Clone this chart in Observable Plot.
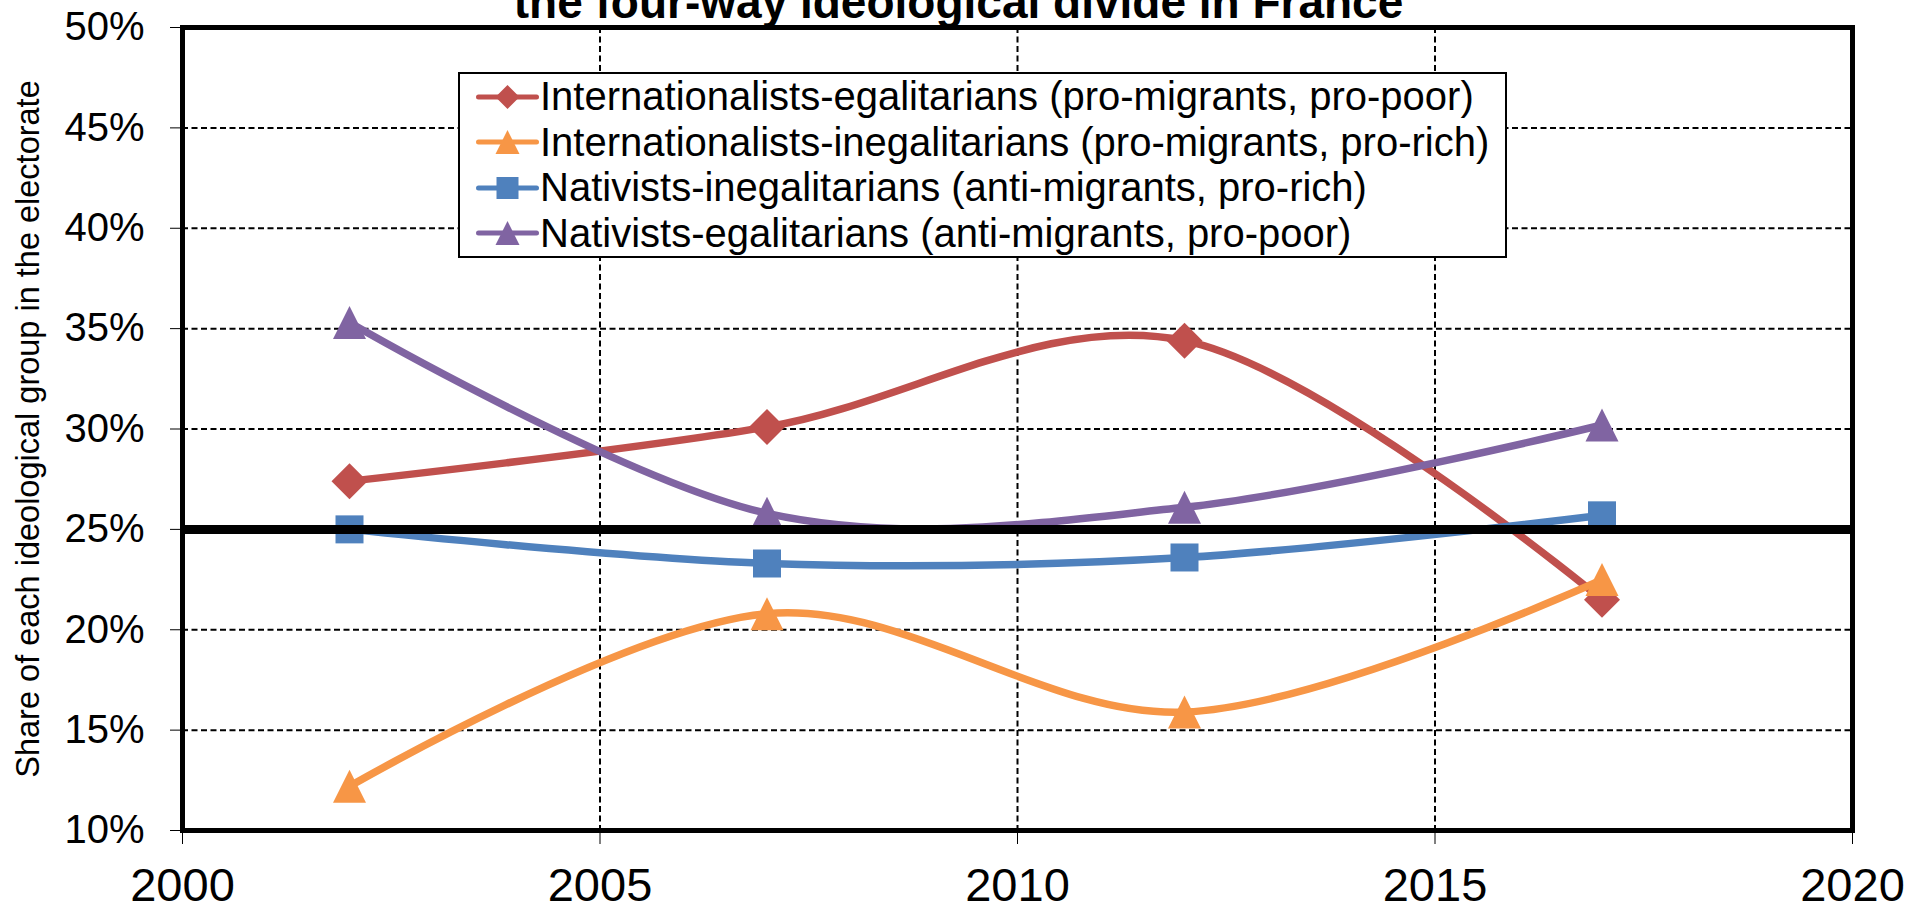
<!DOCTYPE html>
<html>
<head>
<meta charset="utf-8">
<script src="https://cdn.jsdelivr.net/npm/d3@7"></script>
<script src="https://cdn.jsdelivr.net/npm/@observablehq/plot@0.6"></script>
<style>
  html, body { margin: 0; padding: 0; background: #fff; }
  #wrap { position: relative; width: 1926px; height: 910px; overflow: hidden; font-family: "Liberation Sans", Arial, sans-serif; }
  #legend { position: absolute; left: 458px; top: 72px; width: 1045px; height: 182px; border: 2.5px solid #000; background: #fff; }
  #legend .row { display: flex; align-items: center; height: 45.5px; font-size: 40px; color: #000; white-space: nowrap; }
  #legend svg { display: block; flex: none; }
</style>
</head>
<body>
<div id="wrap"></div>
<script>
// ---- data ----
const years = [2002, 2007, 2012, 2017];
const seriesNames = [
  "Internationalists-egalitarians (pro-migrants, pro-poor)",
  "Internationalists-inegalitarians (pro-migrants, pro-rich)",
  "Nativists-inegalitarians (anti-migrants, pro-rich)",
  "Nativists-egalitarians (anti-migrants, pro-poor)"
];
const intlEgal   = [27.4, 30.1, 34.4, 21.5];
const intlInegal = [12.2, 20.8, 15.9, 22.5];
const natInegal  = [25.0, 23.3, 23.6, 25.7];
const natEgal    = [35.3, 25.8, 26.1, 30.2];
const seriesValues = [intlEgal, intlInegal, natInegal, natEgal];
const colors = ["#C0504D", "#F79646", "#4F81BD", "#8064A2"];
const yTicks = [10, 15, 20, 25, 30, 35, 40, 45, 50];
const xTicks = [2000, 2005, 2010, 2015, 2020];
const yGrid = [15, 20, 30, 35, 40, 45];
const xGrid = [2005, 2010, 2015];
const referenceLine = [25];
const titleText = "the four-way ideological divide in France";
const yTitle = "Share of each ideological group in the electorate";

// ---- marker shapes (Excel style) ----
const rad = size => Math.sqrt(size / Math.PI);
const diamond = { draw(ctx, size) { const r = rad(size); ctx.moveTo(0, -r); ctx.lineTo(r, 0); ctx.lineTo(0, r); ctx.lineTo(-r, 0); ctx.closePath(); } };
const triangle = { draw(ctx, size) { const r = rad(size); ctx.moveTo(0, -r); ctx.lineTo(r, r); ctx.lineTo(-r, r); ctx.closePath(); } };
const square = { draw(ctx, size) { const r = rad(size); ctx.moveTo(-r, -r); ctx.lineTo(r, -r); ctx.lineTo(r, r); ctx.lineTo(-r, r); ctx.closePath(); } };
const symbols = [diamond, triangle, square, triangle];
const markerR = [18, 16.5, 14, 16.5];

const data = seriesNames.map((s, i) => years.map((yr, j) => ({ series: s, year: yr, value: seriesValues[i][j] })));

const seriesMarks = data.flatMap((d, i) => [
  Plot.line(d, { x: "year", y: "value", stroke: colors[i], strokeWidth: 7.5, curve: "cardinal" }),
  Plot.dot(d, { x: "year", y: "value", fill: colors[i], symbol: symbols[i], r: markerR[i] })
]);

const gridStyle = { stroke: "#000", strokeOpacity: 1, strokeWidth: 2, strokeDasharray: "6,3.5" };

const chart = Plot.plot({
  width: 1926,
  height: 910,
  marginLeft: 182,
  marginRight: 74,
  marginTop: 27,
  marginBottom: 80,
  style: { fontFamily: "Liberation Sans, Arial, sans-serif", background: "#fff", color: "#000" },
  x: { domain: [2000, 2020] },
  y: { domain: [10, 50] },
  marks: [
    Plot.gridY(yGrid, gridStyle),
    Plot.gridX(xGrid, gridStyle),
    Plot.axisY(yTicks, { tickFormat: d => d + "%", fontSize: 40, tickSize: 12, tickPadding: 26, stroke: "#000", label: null }),
    Plot.axisX(xTicks, { tickFormat: d => String(d), fontSize: 47, tickSize: 14, tickPadding: 23, stroke: "#000", label: null }),
    ...seriesMarks,
    Plot.ruleY(referenceLine, { stroke: "#000", strokeWidth: 9 }),
    Plot.frame({ stroke: "#000", strokeWidth: 5 }),
    Plot.text([yTitle], { frameAnchor: "left", textAnchor: "middle", rotate: -90, dx: -154, fontSize: 32.5, fill: "#000" }),
    Plot.text([titleText], { frameAnchor: "top", lineAnchor: "bottom", dx: -59, dy: -10, fontSize: 46, fontWeight: "bold", fill: "#000" })
  ]
});

const wrap = document.getElementById("wrap");
wrap.appendChild(chart);

// ---- legend (overlay inside plot area) ----
const legend = document.createElement("div");
legend.id = "legend";
const ns = "http://www.w3.org/2000/svg";
const legendR = [12, 12, 11, 12];
seriesNames.forEach((name, i) => {
  const row = document.createElement("div");
  row.className = "row";
  const svg = document.createElementNS(ns, "svg");
  svg.setAttribute("width", 80);
  svg.setAttribute("height", 46);
  const line = document.createElementNS(ns, "line");
  line.setAttribute("x1", 18.5); line.setAttribute("x2", 76.5);
  line.setAttribute("y1", 23); line.setAttribute("y2", 23);
  line.setAttribute("stroke", colors[i]); line.setAttribute("stroke-width", 5);
  line.setAttribute("stroke-linecap", "round");
  svg.appendChild(line);
  const path = document.createElementNS(ns, "path");
  const r = legendR[i];
  path.setAttribute("d", d3.symbol(symbols[i], Math.PI * r * r)());
  path.setAttribute("transform", "translate(47.5,23)");
  path.setAttribute("fill", colors[i]);
  svg.appendChild(path);
  row.appendChild(svg);
  const span = document.createElement("span");
  span.textContent = name;
  row.appendChild(span);
  legend.appendChild(row);
});
wrap.appendChild(legend);
</script>
</body>
</html>
